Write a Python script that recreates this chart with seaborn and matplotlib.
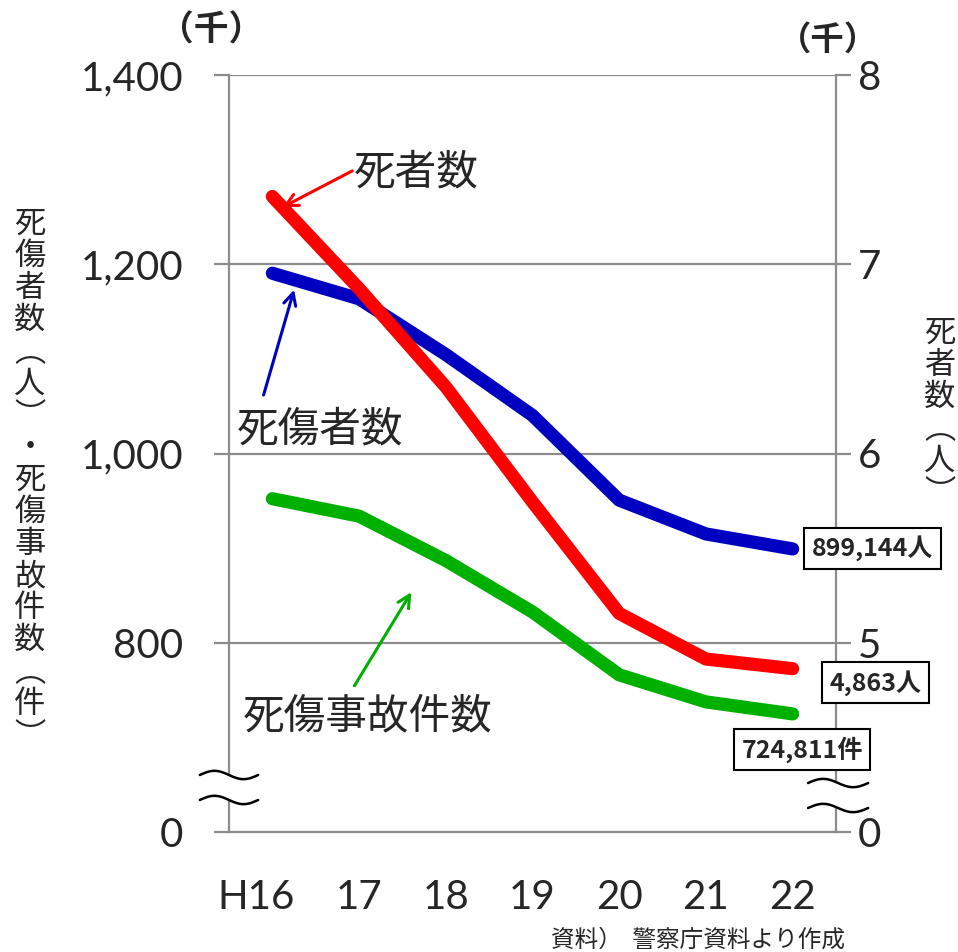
import numpy as np
import pandas as pd
import matplotlib
matplotlib.use("Agg")
import matplotlib.pyplot as plt
from matplotlib.patches import Polygon
import matplotlib.transforms as mtransforms
import seaborn as sns

# ---- data (thousands) ----
years = ["H16", "17", "18", "19", "20", "21", "22"]
casualties = [1190.5, 1163.5, 1104.6, 1040.2, 950.7, 915.0, 899.144]      # 死傷者数 (千人)
accidents = [952.2, 933.8, 886.9, 832.5, 766.1, 737.5, 724.811]           # 死傷事故件数 (千件)
deaths = [7.358, 6.871, 6.352, 5.744, 5.155, 4.914, 4.863]                # 死者数 (千人)

left_ticks = [600, 800, 1000, 1200, 1400]
left_ticklabels = ["0", "800", "1,000", "1,200", "1,400"]
right_ticks = [4, 5, 6, 7, 8]
right_ticklabels = ["0", "5", "6", "7", "8"]

sns.set_style("white")
plt.rcParams["font.family"] = ["Lato", "Noto Sans CJK JP", "DejaVu Sans"]
JP = ["Noto Sans CJK JP", "DejaVu Sans"]

GRID = "#8c8c8c"
RED = "#ff0000"
BLUE = "#0000c0"
GREEN = "#00b000"

fig = plt.figure(figsize=(9.58, 9.52), dpi=100)
ax = fig.add_axes([229 / 958, 1 - 832 / 952, 607 / 958, 757 / 952])
ax2 = ax.twinx()

df = pd.DataFrame({"x": np.arange(len(years)), "cas": casualties, "acc": accidents, "dth": deaths})

lw = 9.5
sns.lineplot(data=df, x="x", y="cas", ax=ax, color=BLUE, linewidth=lw, solid_capstyle="round", zorder=3)
sns.lineplot(data=df, x="x", y="acc", ax=ax, color=GREEN, linewidth=lw, solid_capstyle="round", zorder=3)
sns.lineplot(data=df, x="x", y="dth", ax=ax2, color=RED, linewidth=lw, solid_capstyle="round", zorder=3)

# ---- axes styling ----
for a in (ax, ax2):
    a.set_xlim(-0.5, len(years) - 0.5)
    a.set_xlabel("")
    a.set_ylabel("")
    a.patch.set_visible(False)
    for s in a.spines.values():
        s.set_color(GRID)
        s.set_linewidth(1.6)
    a.spines["top"].set_visible(False)

ax.set_ylim(600, 1400)
ax2.set_ylim(4, 8)
ax.spines["right"].set_visible(False)
ax2.spines["left"].set_visible(False)
ax2.spines["bottom"].set_visible(False)

ax.set_yticks(left_ticks)
ax.set_yticklabels(left_ticklabels, fontsize=29)
ax2.set_yticks(right_ticks)
ax2.set_yticklabels(right_ticklabels, fontsize=29)
ax.tick_params(axis="y", direction="out", length=11, width=1.6, color=GRID, pad=22, left=True)
ax2.tick_params(axis="y", direction="out", length=11, width=1.6, color=GRID, pad=5, right=True)

ax.yaxis.grid(True, color=GRID, linewidth=1.6)
ax.set_axisbelow(True)

# category boundaries as tick marks, labels at category centers
ax.set_xticks(np.arange(-0.5, len(years)), minor=False)
ax.set_xticklabels([])
ax.set_xticks(np.arange(len(years)), minor=True)
ax.set_xticklabels(years, minor=True, fontsize=29)
ax.tick_params(axis="x", which="major", direction="out", length=11, width=1.6, color=GRID, bottom=True)
ax.tick_params(axis="x", which="minor", length=0, pad=34)
ax2.set_xticks([])
first = ax.xaxis.get_minorticklabels()[0]
first.set_transform(first.get_transform() + mtransforms.ScaledTranslation(-16 / 100, 0, fig.dpi_scale_trans))

# ---- axis break marks ----
def axis_break(x0, x1, y_top, y_bot, amp=0.0055):
    t = np.linspace(0, 1, 60)
    xs = x0 + (x1 - x0) * t
    top = y_top + amp * np.sin(2 * np.pi * t)
    bot = y_bot + amp * np.sin(2 * np.pi * t)
    poly = np.vstack([np.column_stack([xs, top]), np.column_stack([xs[::-1], bot[::-1]])])
    ax2.add_patch(Polygon(poly, closed=True, facecolor="white", edgecolor="none",
                          transform=ax2.transAxes, clip_on=False, zorder=6))
    for yy in (top, bot):
        ax2.plot(xs, yy, color="black", linewidth=1.8, transform=ax2.transAxes, clip_on=False, zorder=7)

axis_break(-0.048, 0.048, 0.0753, 0.0423)
axis_break(0.954, 1.053, 0.0647, 0.0317)

# ---- series annotations ----
ax.annotate("", xy=(0.09, 1259), xytext=(0.95, 1300),
            arrowprops=dict(arrowstyle="->", color=RED, lw=2.2, mutation_scale=22), zorder=8)
ax.text(0.94, 1297, "死者数", fontsize=30, family=JP, ha="left", va="center", zorder=8)

ax.annotate("", xy=(0.26, 1176), xytext=(-0.11, 1059),
            arrowprops=dict(arrowstyle="->", color=BLUE, lw=2.2, mutation_scale=22), zorder=8)
ax.text(0.55, 1025, "死傷者数", fontsize=30, family=JP, ha="center", va="center", zorder=8)

ax.annotate("", xy=(1.62, 856), xytext=(0.93, 752),
            arrowprops=dict(arrowstyle="->", color=GREEN, lw=2.2, mutation_scale=22), zorder=8)
ax.text(1.10, 722, "死傷事故件数", fontsize=30, family=JP, ha="center", va="center", zorder=8)

# ---- end value boxes ----
box = dict(boxstyle="square,pad=0.3", facecolor="white", edgecolor="black", linewidth=1.5)
ax2.text(6.92, 4 + (900 - 600) / 200, f"{casualties[-1] * 1000:,.0f}人", fontsize=18, family=JP,
         weight="bold", ha="center", va="center", bbox=box, zorder=9, clip_on=False)
ax2.text(6.95, 4 + (757.6 - 600) / 200, f"{deaths[-1] * 1000:,.0f}人", fontsize=18, family=JP,
         weight="bold", ha="center", va="center", bbox=box, zorder=9, clip_on=False)
ax2.text(6.11, 4 + (687 - 600) / 200, f"{accidents[-1] * 1000:,.0f}件", fontsize=18, family=JP,
         weight="bold", ha="center", va="center", bbox=box, zorder=9, clip_on=False)

# ---- unit labels and axis titles ----
fig.text(211 / 958, 1 - 30 / 952, "（千）", fontsize=25, family=JP, weight="bold", ha="center", va="center")
fig.text(828 / 958, 1 - 40 / 952, "（千）", fontsize=24, family=JP, weight="bold", ha="center", va="center")

left_title = "死傷者数︵人︶・死傷事故件数︵件︶"
fig.text(30 / 958, 1 - 480 / 952, "\n".join(left_title), fontsize=22.5, family=JP,
         ha="center", va="center", linespacing=1.0)
right_title = "死者数︵人︶"
fig.text(940 / 958, 1 - 413 / 952, "\n".join(right_title), fontsize=22.5, family=JP,
         ha="center", va="center", linespacing=1.0)

fig.text(698 / 958, 1 - 940 / 952, "資料）  警察庁資料より作成", fontsize=17, family=JP,
         ha="center", va="center")

fig.savefig("out.png", dpi=100)
